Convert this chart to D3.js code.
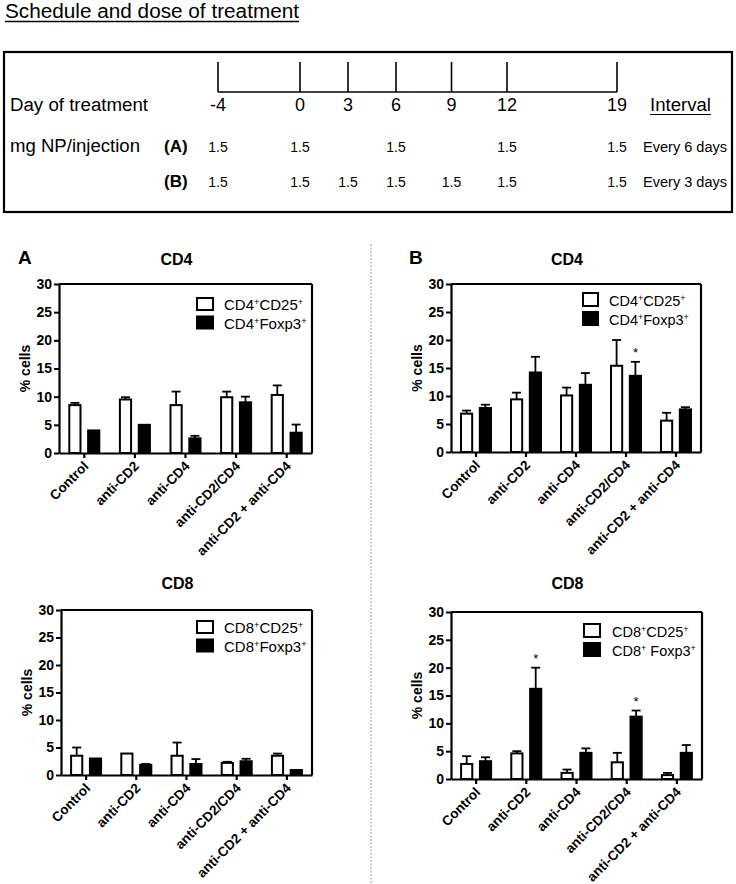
<!DOCTYPE html>
<html>
<head>
<meta charset="utf-8">
<script src="https://cdn.jsdelivr.net/npm/d3@7"></script>
<style>
  html, body { margin: 0; padding: 0; background: #fff; }
  svg { display: block; font-family: "Liberation Sans", Arial, Helvetica, sans-serif; }
</style>
</head>
<body>
<svg id="chart" width="736" height="884"></svg>
<script>
// ---------------- DATA ----------------
const categories = ["Control", "anti-CD2", "anti-CD4", "anti-CD2/CD4", "anti-CD2 + anti-CD4"];
const yTicks = [0, 5, 10, 15, 20, 25, 30];

// Schedule
const days = [-4, 0, 3, 6, 9, 12, 19];
const doseA = [1.5, 1.5, null, 1.5, null, 1.5, 1.5];
const doseB = [1.5, 1.5, 1.5, 1.5, 1.5, 1.5, 1.5];
const intervalA = "Every 6 days";
const intervalB = "Every 3 days";

// Panel A – CD4
const cd4A_CD25 = [8.5, 9.5, 8.5, 9.9, 10.3];
const cd4A_CD25_err = [0.4, 0.4, 2.4, 1.0, 1.7];
const cd4A_Foxp3 = [4.0, 5.0, 2.6, 9.0, 3.6];
const cd4A_Foxp3_err = [0, 0, 0.45, 1.0, 1.45];

// Panel B – CD4
const cd4B_CD25 = [6.85, 9.4, 10.1, 15.4, 5.6];
const cd4B_CD25_err = [0.55, 1.2, 1.4, 4.6, 1.4];
const cd4B_Foxp3 = [7.85, 14.2, 12.0, 13.6, 7.6];
const cd4B_Foxp3_err = [0.6, 2.8, 2.1, 2.5, 0.4];
const cd4B_stars = [false, false, false, true, false];

// Panel A – CD8
const cd8A_CD25 = [3.5, 3.9, 3.5, 2.2, 3.5];
const cd8A_CD25_err = [1.5, 0, 2.4, 0.2, 0.4];
const cd8A_Foxp3 = [3.0, 1.85, 2.0, 2.5, 0.9];
const cd8A_Foxp3_err = [0, 0.15, 0.9, 0.45, 0];

// Panel B – CD8
const cd8B_CD25 = [2.7, 4.6, 1.1, 3.0, 0.7];
const cd8B_CD25_err = [1.4, 0.4, 0.6, 1.7, 0.4];
const cd8B_Foxp3 = [3.2, 16.2, 4.7, 11.2, 4.7];
const cd8B_Foxp3_err = [0.7, 3.8, 0.8, 1.1, 1.4];
const cd8B_stars = [false, true, false, true, false];

// ---------------- DRAW ----------------
const svg = d3.select("#chart");

// ---- Schedule section ----
const sched = svg.append("g");
sched.append("text").attr("x", 5).attr("y", 18)
  .attr("font-size", 20).attr("textLength", 294).attr("lengthAdjust", "spacingAndGlyphs")
  .text("Schedule and dose of treatment");
sched.append("line").attr("x1", 5).attr("x2", 299).attr("y1", 21.5).attr("y2", 21.5)
  .attr("stroke", "#000").attr("stroke-width", 1.3);

sched.append("rect").attr("x", 4).attr("y", 52).attr("width", 728).attr("height", 160)
  .attr("fill", "none").attr("stroke", "#000").attr("stroke-width", 2.2);

const dayX = d3.scaleLinear().domain([-4, 0, 6, 12, 19]).range([218, 300, 396, 507, 617]);
sched.append("line").attr("x1", dayX(days[0])).attr("x2", dayX(days[days.length - 1]))
  .attr("y1", 92).attr("y2", 92).attr("stroke", "#000").attr("stroke-width", 1.6);
sched.selectAll(".dtick").data(days).join("line")
  .attr("x1", d => dayX(d)).attr("x2", d => dayX(d)).attr("y1", 62).attr("y2", 92)
  .attr("stroke", "#000").attr("stroke-width", 1.6);

sched.append("text").attr("x", 10).attr("y", 111).attr("font-size", 18)
  .attr("textLength", 138).attr("lengthAdjust", "spacingAndGlyphs").text("Day of treatment");
sched.selectAll(".dlab").data(days).join("text")
  .attr("x", d => dayX(d)).attr("y", 111).attr("font-size", 18).attr("text-anchor", "middle")
  .text(d => d);
sched.append("text").attr("x", 650).attr("y", 111).attr("font-size", 18)
  .attr("textLength", 61).attr("lengthAdjust", "spacingAndGlyphs").text("Interval");
sched.append("line").attr("x1", 650).attr("x2", 711).attr("y1", 114.5).attr("y2", 114.5)
  .attr("stroke", "#000").attr("stroke-width", 1.2);

sched.append("text").attr("x", 10).attr("y", 152).attr("font-size", 18)
  .attr("textLength", 130).attr("lengthAdjust", "spacingAndGlyphs").text("mg NP/injection");
sched.append("text").attr("x", 164).attr("y", 152).attr("font-size", 17).attr("font-weight", "bold").text("(A)");
sched.append("text").attr("x", 164).attr("y", 187).attr("font-size", 17).attr("font-weight", "bold").text("(B)");

function doseRow(vals, yy, intervalText) {
  sched.selectAll(null).data(days.map((d, i) => ({ d, v: vals[i] })).filter(o => o.v !== null)).join("text")
    .attr("x", o => dayX(o.d)).attr("y", yy).attr("font-size", 14).attr("text-anchor", "middle")
    .text(o => o.v);
  sched.append("text").attr("x", 643).attr("y", yy).attr("font-size", 14)
    .attr("textLength", 84).attr("lengthAdjust", "spacingAndGlyphs").text(intervalText);
}
doseRow(doseA, 152, intervalA);
doseRow(doseB, 187, intervalB);

// ---- Divider ----
svg.append("line").attr("x1", 371).attr("x2", 371).attr("y1", 244).attr("y2", 884)
  .attr("stroke", "#999").attr("stroke-width", 1).attr("stroke-dasharray", "2,1.5");

// ---- Panel letters ----
svg.append("text").attr("x", 18).attr("y", 264).attr("font-size", 19).attr("font-weight", "bold").text("A");
svg.append("text").attr("x", 409).attr("y", 264).attr("font-size", 19).attr("font-weight", "bold").text("B");

// superscript helper: "^+" marks a superscripted "+"
function richText(sel, str) {
  const parts = str.split(/(\^\+)/).filter(p => p);
  parts.forEach(p => {
    if (p === "^+") {
      sel.append("tspan").attr("font-size", "62%").attr("baseline-shift", "super").text("+");
    } else {
      sel.append("tspan").text(p);
    }
  });
}

const panels = [
  { x0: 59, x1: 312, yTop: 284, yBot: 453, title: "CD4", titleY: 265,
    white: cd4A_CD25, whiteErr: cd4A_CD25_err, black: cd4A_Foxp3, blackErr: cd4A_Foxp3_err, stars: null,
    leg: ["CD4^+CD25^+", "CD4^+Foxp3^+"], lx: 196, ly: 297, lw: 18, lh: 14, lgap: 18.5, ltx: 224, lfs: 15 },
  { x0: 451, x1: 701, yTop: 284, yBot: 452, title: "CD4", titleY: 265,
    white: cd4B_CD25, whiteErr: cd4B_CD25_err, black: cd4B_Foxp3, blackErr: cd4B_Foxp3_err, stars: cd4B_stars,
    leg: ["CD4^+CD25^+", "CD4^+Foxp3^+"], lx: 582, ly: 292, lw: 17, lh: 15, lgap: 19, ltx: 609, lfs: 14.5 },
  { x0: 61, x1: 312, yTop: 610, yBot: 775, title: "CD8", titleY: 589,
    white: cd8A_CD25, whiteErr: cd8A_CD25_err, black: cd8A_Foxp3, blackErr: cd8A_Foxp3_err, stars: null,
    leg: ["CD8^+CD25^+", "CD8^+Foxp3^+"], lx: 196, ly: 620, lw: 18, lh: 14, lgap: 18.5, ltx: 224, lfs: 15 },
  { x0: 451, x1: 702, yTop: 612, yBot: 779, title: "CD8", titleY: 589,
    white: cd8B_CD25, whiteErr: cd8B_CD25_err, black: cd8B_Foxp3, blackErr: cd8B_Foxp3_err, stars: cd8B_stars,
    leg: ["CD8^+CD25^+", "CD8^+ Foxp3^+"], lx: 583, ly: 623, lw: 18, lh: 15, lgap: 19, ltx: 612, lfs: 14.5 }
];

panels.forEach(p => {
  const g = svg.append("g");
  const x = d3.scaleBand().domain(categories).range([p.x0, p.x1]);
  const y = d3.scaleLinear().domain([0, 30]).range([p.yBot, p.yTop]);
  const sub = d3.scaleBand().domain(["w", "b"]).range([-16, 16]).paddingInner(0.3);
  const cx = c => x(c) + x.bandwidth() / 2;

  // title
  g.append("text").attr("x", (p.x0 + p.x1) / 2 - 9).attr("y", p.titleY).attr("text-anchor", "middle")
    .attr("font-size", 16).attr("font-weight", "bold").text(p.title);

  // bars
  const bw = sub.bandwidth();
  const series = [
    { key: "w", vals: p.white, errs: p.whiteErr, fill: "#fff" },
    { key: "b", vals: p.black, errs: p.blackErr, fill: "#000" }
  ];
  series.forEach(s => {
    const data = categories.map((c, i) => ({ c, v: s.vals[i], e: s.errs[i], i }));
    const eg = g.append("g");
    data.filter(d => d.e > 0).forEach(d => {
      const mx = cx(d.c) + sub(s.key) + bw / 2;
      eg.append("line").attr("x1", mx).attr("x2", mx).attr("y1", y(d.v)).attr("y2", y(d.v + d.e))
        .attr("stroke", "#000").attr("stroke-width", 1.8);
      eg.append("line").attr("x1", mx - 4.5).attr("x2", mx + 4.5).attr("y1", y(d.v + d.e)).attr("y2", y(d.v + d.e))
        .attr("stroke", "#000").attr("stroke-width", 1.8);
    });
    g.selectAll(null).data(data).join("rect")
      .attr("x", d => cx(d.c) + sub(s.key) + 1)
      .attr("y", d => y(d.v))
      .attr("width", bw - 2)
      .attr("height", d => p.yBot - y(d.v))
      .attr("fill", s.fill).attr("stroke", "#000").attr("stroke-width", 2);
    if (s.key === "b" && p.stars) {
      g.selectAll(null).data(data.filter(d => p.stars[d.i])).join("text")
        .attr("x", d => cx(d.c) + sub(s.key) + bw / 2)
        .attr("y", d => y(d.v + d.e) - 5)
        .attr("text-anchor", "middle").attr("font-size", 13).text("*");
    }
  });

  // frame (top + right)
  g.append("line").attr("x1", p.x0).attr("x2", p.x1).attr("y1", p.yTop).attr("y2", p.yTop)
    .attr("stroke", "#000").attr("stroke-width", 2.2);
  g.append("line").attr("x1", p.x1).attr("x2", p.x1).attr("y1", p.yTop).attr("y2", p.yBot)
    .attr("stroke", "#000").attr("stroke-width", 2.2);

  // y axis
  const ya = g.append("g").attr("transform", `translate(${p.x0},0)`)
    .call(d3.axisLeft(y).tickValues(yTicks).tickSize(5).tickPadding(2).tickSizeOuter(0));
  ya.select(".domain").attr("stroke-width", 2.2);
  ya.selectAll(".tick line").attr("stroke-width", 2);
  ya.selectAll(".tick text").attr("font-size", 14).attr("font-weight", "bold")
    .attr("font-family", "Liberation Sans, Arial, sans-serif").attr("fill", "#000");

  // x axis
  const xa = g.append("g").attr("transform", `translate(0,${p.yBot})`)
    .call(d3.axisBottom(x).tickSize(5).tickSizeOuter(0).tickFormat(""));
  xa.select(".domain").attr("stroke-width", 2.2);
  xa.selectAll(".tick line").attr("stroke-width", 2.2);

  g.selectAll(null).data(categories).join("text")
    .attr("transform", c => `translate(${cx(c) + 5},${p.yBot + 14}) rotate(-45)`)
    .attr("text-anchor", "end").attr("font-size", 13.5).attr("font-weight", "bold")
    .text(c => c);

  // y label
  g.append("text").attr("transform", `translate(${p.x0 - 29},${(p.yTop + p.yBot) / 2}) rotate(-90)`)
    .attr("text-anchor", "middle").attr("font-size", 14).attr("font-weight", "bold").text("% cells");

  // legend
  const fills = ["#fff", "#000"];
  p.leg.forEach((lab, i) => {
    g.append("rect").attr("x", p.lx + 1).attr("y", p.ly + i * p.lgap + 1)
      .attr("width", p.lw - 2).attr("height", p.lh - 2)
      .attr("fill", fills[i]).attr("stroke", "#000").attr("stroke-width", 2);
    const t = g.append("text").attr("x", p.ltx).attr("y", p.ly + i * p.lgap + p.lh - 1)
      .attr("font-size", p.lfs);
    richText(t, lab);
  });
});
</script>
</body>
</html>
